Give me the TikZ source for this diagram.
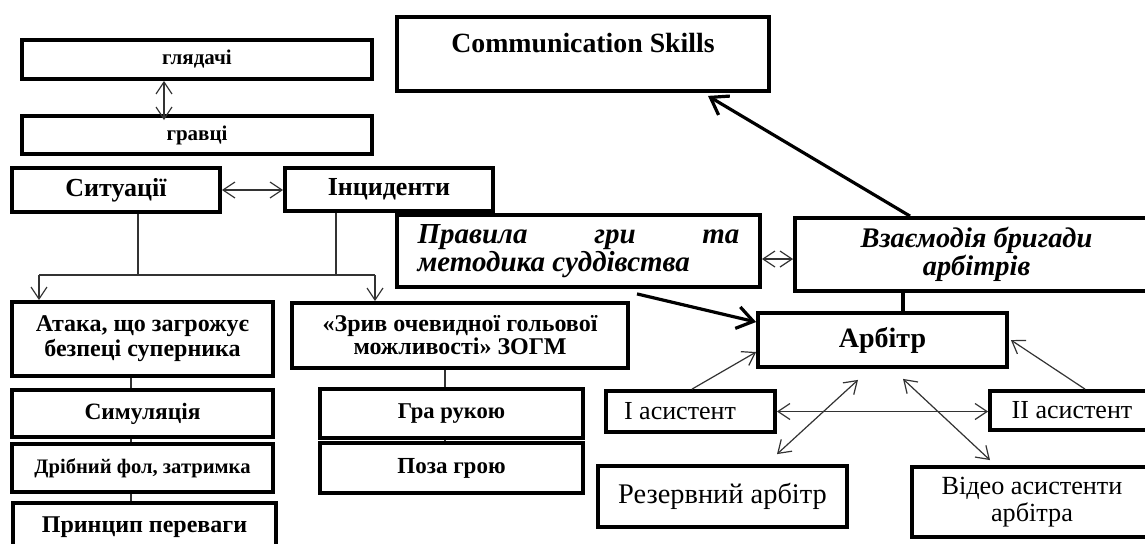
\documentclass[tikz,border=0pt]{standalone}
\usepackage{fontspec}
\setmainfont{Liberation Serif}
\usetikzlibrary{arrows.meta,calc}
\begin{document}
\begin{tikzpicture}[x=0.5pt,y=-0.5pt,
  bx/.style 2 args={draw,line width=1.9pt,minimum width=#1*0.5pt,minimum height=#2*0.5pt,inner sep=0pt,align=center},
  tl/.style={line width=0.6pt,draw=black!80},
  thk/.style={line width=1.6pt,-{Straight Barb[length=8pt,width=11pt,line width=1.6pt]}},
  thkline/.style={line width=1.8pt},
  >={Straight Barb[length=6pt,width=8pt]},
  fb/.style={font=\fontsize{#1}{#1}\selectfont\bfseries},
  fr/.style={font=\fontsize{#1}{#1}\selectfont},
]
\useasboundingbox (0,0) rectangle (1145,543);
% left column
\node[bx={350}{39},fb=10.5] (gl) at (197,59.5) {глядачі};
\node[bx={350}{38},fb=10.5] (gr) at (197,135) {гравці};
\node[bx={208}{44},fb=13] (sit) at (116,190) {Ситуації};
\node[bx={208}{43},fb=13] (inc) at (389,189.5) {Інциденти};
\node[bx={261}{74},font=\fontsize{12}{12.5}\selectfont\bfseries] (at) at (142.5,339) {Атака, що загрожує\\безпеці суперника};
\node[bx={336}{65},font=\fontsize{12}{11.5}\selectfont\bfseries] (zo) at (460,335.5) {«Зрив очевидної гольової\\можливості» ЗОГМ};
\node[bx={261}{47},fb=11.7] (sim) at (142.5,413.5) {Симуляція};
\node[bx={261}{48},fb=10.3] (dr) at (142.5,468) {Дрібний фол, затримка};
\node[bx={263}{48},fb=12] (pp) at (144.5,527) {Принцип переваги};
\node[bx={263}{49},fb=11.3] (hra) at (451.5,413.5) {Гра рукою};
\node[bx={263}{50},fb=11.5] (poza) at (451.5,468) {Поза грою};
% right part
\node[bx={372}{74}] (comm) at (583,54) {};
\node[fb=13.9,inner sep=0pt] (commt) at (583,43) {Communication Skills};
\node[bx={363}{72},font=\fontsize{14.5}{12}\selectfont\bfseries\itshape,align=left] (pr) at (578.5,251) {\makebox[161pt][s]{Правила гри та}\\методика суддівства};
\node[bx={363}{73},font=\fontsize{14.2}{12.5}\selectfont\bfseries\itshape] (vz) at (976.5,254.5) {Взаємодія бригади\\арбітрів};
\node[bx={249}{54},fb=14] (ar) at (882.5,340) {Арбітр};
\node[bx={169}{41},fr=13] (ias) at (690.5,411.5) {І асистент\hspace*{10.5pt}};
\node[bx={164}{39},fr=13] (iias) at (1072,410.5) {ІІ асистент};
\node[bx={249}{61},fr=14.2] (rez) at (722.5,496.5) {Резервний арбітр};
\node[bx={240}{70},font=\fontsize{13.1}{13.5}\selectfont] (vid) at (1032,502) {Відео асистенти\\арбітра};
% connectors left
\draw[tl,<->] ([xshift=-16.5pt]gl.south) -- ([xshift=-16.5pt,yshift=-3pt]gr.north);
\draw[tl,<->] (sit.east) -- (sit.east -| inc.west);
\coordinate (jl) at (39,275);
\coordinate (jr) at (375,275);
\draw[tl] ([xshift=11pt]sit.south) -- ([xshift=11pt]sit.south |- jl);
\draw[tl] ([xshift=-26.5pt]inc.south) -- ([xshift=-26.5pt]inc.south |- jl);
\draw[tl] (jl) -- (jr);
\draw[tl,->] (jl) -- (jl |- at.north);
\draw[tl,->] (jr) -- (jr |- zo.north);
\draw[tl] ([xshift=-5.75pt]at.south) -- ([xshift=-5.75pt]at.south |- sim.north);
\draw[tl] ([xshift=-5.75pt]at.south |- sim.south) -- ([xshift=-5.75pt]at.south |- dr.north);
\draw[tl] ([xshift=-5.75pt]at.south |- dr.south) -- ([xshift=-5.75pt]at.south |- pp.north);
\draw[tl] ([xshift=-7.5pt]zo.south) -- ([xshift=-7.5pt]zo.south |- hra.north);
\draw[tl] ([xshift=-7.5pt]zo.south |- hra.south) -- ([xshift=-7.5pt]zo.south |- poza.north);
% connectors right
\draw[tl,<->] ([yshift=-4pt]pr.east) -- ([yshift=-4pt]pr.east -| vz.west);
\draw[thk] ([xshift=-33.25pt]vz.north) -- ([xshift=62.5pt,yshift=-1.5pt]comm.south);
\draw[thkline] ([xshift=-36.75pt]vz.south) -- ([xshift=-36.75pt]vz.south |- ar.north);
\draw[thk] ([xshift=29.25pt,yshift=-2.5pt]pr.south) -- ([yshift=9pt]ar.west);
\draw[tl,->] ([xshift=0.75pt]ias.north) -- ([yshift=-6pt]ar.west);
\draw[tl,->] ([xshift=6.5pt]iias.north) -- ([xshift=1pt]ar.east);
\draw[tl,<->] (ias.east) -- (ias.east -| iias.west);
\draw[tl,<->] ([xshift=27.25pt,yshift=5pt]rez.north) -- ([xshift=-12.25pt,yshift=-5.5pt]ar.south);
\draw[tl,<->] ([xshift=10.25pt,yshift=-5pt]ar.south) -- ([xshift=-21pt,yshift=2.5pt]vid.north);
\end{tikzpicture}
\end{document}
